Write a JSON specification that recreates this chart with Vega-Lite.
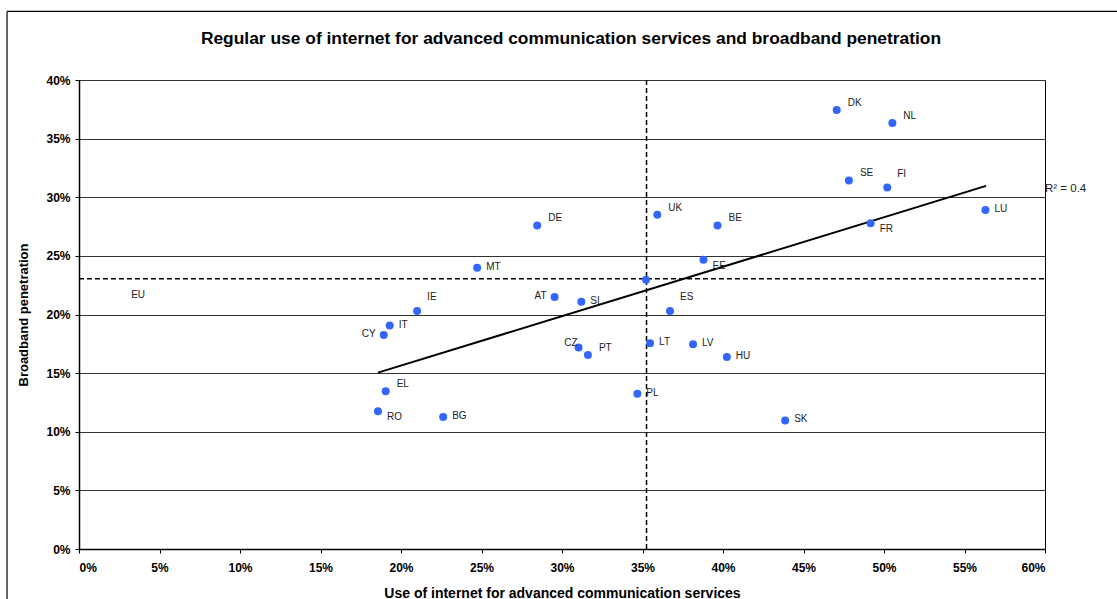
{
  "$schema": "https://vega.github.io/schema/vega-lite/v6.json",
  "width": 966,
  "height": 469,
  "autosize": {"type": "none"},
  "padding": {"left": 79, "top": 80, "right": 72, "bottom": 50},
  "background": "white",
  "config": {
    "font": "Liberation Sans",
    "view": {"stroke": "black", "strokeWidth": 1},
    "axis": {
      "domainColor": "black",
      "domainWidth": 1.5,
      "tickColor": "black",
      "tickSize": 4,
      "labelFont": "Liberation Sans",
      "labelFontWeight": "bold",
      "labelFontSize": 12,
      "labelColor": "black",
      "titleFont": "Liberation Sans",
      "titleFontWeight": "bold",
      "titleFontSize": 13,
      "titleColor": "black"
    }
  },
  "title": {
    "text": "Regular use of internet for advanced communication services and broadband penetration",
    "font": "Liberation Sans",
    "fontSize": 17.4,
    "fontWeight": "bold",
    "color": "black",
    "anchor": "middle",
    "frame": "group",
    "dx": 9,
    "offset": -37
  },
  "datasets": {
    "pts": [
      {"c": "DK", "x": 47.06, "y": 37.44},
      {"c": "NL", "x": 50.52, "y": 36.33},
      {"c": "SE", "x": 47.82, "y": 31.43},
      {"c": "FI", "x": 50.2, "y": 30.83},
      {"c": "LU", "x": 56.3, "y": 28.92},
      {"c": "FR", "x": 49.17, "y": 27.78},
      {"c": "SK", "x": 43.86, "y": 10.97},
      {"c": "DE", "x": 28.46, "y": 27.6},
      {"c": "UK", "x": 35.92, "y": 28.5},
      {"c": "BE", "x": 39.66, "y": 27.6},
      {"c": "MT", "x": 24.73, "y": 23.99},
      {"c": "EE", "x": 38.79, "y": 24.67},
      {"c": "EU27", "x": 35.22, "y": 22.97},
      {"c": "IE", "x": 21.0, "y": 20.3},
      {"c": "AT", "x": 29.54, "y": 21.49},
      {"c": "SI", "x": 31.2, "y": 21.09},
      {"c": "ES", "x": 36.71, "y": 20.3},
      {"c": "IT", "x": 19.3, "y": 19.06},
      {"c": "CY", "x": 18.93, "y": 18.26},
      {"c": "CZ", "x": 31.03, "y": 17.18},
      {"c": "PT", "x": 31.61, "y": 16.55},
      {"c": "LT", "x": 35.47, "y": 17.55},
      {"c": "LV", "x": 38.14, "y": 17.47},
      {"c": "HU", "x": 40.24, "y": 16.38},
      {"c": "EL", "x": 19.05, "y": 13.45},
      {"c": "PL", "x": 34.68, "y": 13.25},
      {"c": "RO", "x": 18.57, "y": 11.74},
      {"c": "BG", "x": 22.62, "y": 11.26}
    ],
    "avg": [{"x": 35.25, "y": 23.05}],
    "trend": [{"x": 18.57, "y": 15.04}, {"x": 56.34, "y": 30.97}],
    "eu": [{"t": "EU", "x": 3.67, "y": 21.63}],
    "r2": [{"t": "R² = 0.4", "x": 60, "y": 30.69}],
    "frame": [{"x": -4.47, "xe": 80, "y": 45.85, "ye": -10}]
  },
  "encoding": {
    "x": {
      "field": "x",
      "type": "quantitative",
      "scale": {"domain": [0, 60], "nice": false},
      "axis": {
        "values": [0, 5, 10, 15, 20, 25, 30, 35, 40, 45, 50, 55, 60],
        "labelExpr": "datum.value + '%'",
        "grid": false,
        "labelPadding": 9,
        "title": "Use of internet for advanced communication services",
        "titleFontSize": 14,
        "titlePadding": 13
      }
    },
    "y": {
      "field": "y",
      "type": "quantitative",
      "scale": {"domain": [0, 40], "nice": false},
      "axis": {
        "values": [0, 5, 10, 15, 20, 25, 30, 35, 40],
        "labelExpr": "datum.value + '%'",
        "grid": true,
        "gridColor": "#333333",
        "gridWidth": 1,
        "labelPadding": 5,
        "title": "Broadband penetration",
        "titlePadding": 15
      }
    }
  },
  "layer": [
    {
      "data": {"name": "frame"},
      "mark": {"type": "rule", "color": "black", "strokeWidth": 1.2},
      "encoding": {
        "x": {"field": "x", "type": "quantitative"},
        "x2": {"field": "xe"},
        "y": {"field": "y", "type": "quantitative"}
      }
    },
    {
      "data": {"name": "frame"},
      "mark": {"type": "rule", "color": "black", "strokeWidth": 1.2},
      "encoding": {
        "x": {"field": "x", "type": "quantitative"},
        "y": {"field": "y", "type": "quantitative"},
        "y2": {"field": "ye"}
      }
    },
    {
      "data": {"name": "avg"},
      "mark": {"type": "rule", "color": "black", "strokeWidth": 1.5, "strokeDash": [5, 3]},
      "encoding": {
        "y": {"datum": 0, "type": "quantitative"},
        "y2": {"datum": 40}
      }
    },
    {
      "data": {"name": "avg"},
      "mark": {"type": "rule", "color": "black", "strokeWidth": 1.5, "strokeDash": [5, 3]},
      "encoding": {
        "x": {"datum": 0, "type": "quantitative"},
        "x2": {"datum": 60}
      }
    },
    {
      "data": {"name": "trend"},
      "mark": {"type": "line", "color": "black", "strokeWidth": 2}
    },
    {
      "data": {"name": "pts"},
      "mark": {"type": "circle", "size": 64, "color": "#3366ff", "opacity": 1}
    },
    {
      "data": {"name": "pts"},
      "transform": [{"filter": "indexof(['DK','NL','SE','DE','UK','BE','PT','EL'], datum.c) >= 0"}],
      "mark": {"type": "text", "align": "left", "baseline": "middle", "dx": 11, "dy": -7, "fontSize": 10, "color": "#222222"},
      "encoding": {"text": {"field": "c"}}
    },
    {
      "data": {"name": "pts"},
      "transform": [{"filter": "indexof(['IE','ES','FI'], datum.c) >= 0"}],
      "mark": {"type": "text", "align": "left", "baseline": "middle", "dx": 10, "dy": -14, "fontSize": 10, "color": "#222222"},
      "encoding": {"text": {"field": "c"}}
    },
    {
      "data": {"name": "pts"},
      "transform": [{"filter": "indexof(['LU','SK','MT','SI','IT','LT','LV','HU','PL','BG'], datum.c) >= 0"}],
      "mark": {"type": "text", "align": "left", "baseline": "middle", "dx": 9, "dy": -1, "fontSize": 10, "color": "#222222"},
      "encoding": {"text": {"field": "c"}}
    },
    {
      "data": {"name": "pts"},
      "transform": [{"filter": "indexof(['FR','EE','RO'], datum.c) >= 0"}],
      "mark": {"type": "text", "align": "left", "baseline": "middle", "dx": 9, "dy": 6, "fontSize": 10, "color": "#222222"},
      "encoding": {"text": {"field": "c"}}
    },
    {
      "data": {"name": "pts"},
      "transform": [{"filter": "indexof(['CY','AT'], datum.c) >= 0"}],
      "mark": {"type": "text", "align": "right", "baseline": "middle", "dx": -8, "dy": -1, "fontSize": 10, "color": "#222222"},
      "encoding": {"text": {"field": "c"}}
    },
    {
      "data": {"name": "pts"},
      "transform": [{"filter": "datum.c == 'CZ'"}],
      "mark": {"type": "text", "align": "right", "baseline": "middle", "dx": -1, "dy": -5, "fontSize": 10, "color": "#222222"},
      "encoding": {"text": {"field": "c"}}
    },
    {
      "data": {"name": "eu"},
      "mark": {"type": "text", "align": "center", "baseline": "middle", "fontSize": 10, "color": "#222222"},
      "encoding": {"text": {"field": "t"}}
    },
    {
      "data": {"name": "r2"},
      "mark": {"type": "text", "align": "left", "baseline": "middle", "fontSize": 11.5, "color": "#222222"},
      "encoding": {"text": {"field": "t"}}
    }
  ]
}
